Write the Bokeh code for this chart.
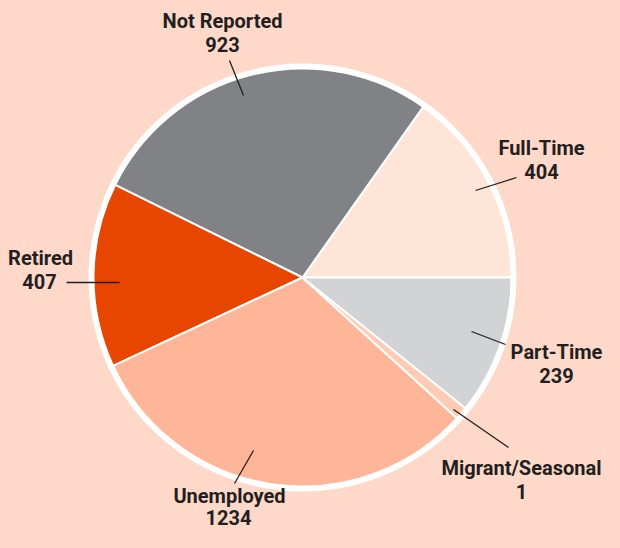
import math
from bokeh.plotting import figure
from bokeh.models import Range1d, ColumnDataSource
from bokeh.core.properties import value
from bokeh.embed import file_html
from bokeh.resources import INLINE

# ---- data ----
categories = ["Full-Time", "Not Reported", "Retired", "Unemployed", "Migrant/Seasonal", "Part-Time"]
counts = [404, 923, 407, 1234, 1, 239]
# share of the circle each slice occupies in the picture (percent)
slice_share = [15.2, 27.5, 14.25, 31.3, 1.0, 10.75]

colors = ["#FFE4D8", "#818285", "#E84600", "#FFB698", "#FFCBB4", "#D1D3D4"]
BG = "#FED9C9"

W, H = 604, 532
def X(px):  # picture px -> data x
    return px
def Y(py):  # picture py -> data y
    return H - py

cx, cy = X(302), Y(277)
R = 209

total = sum(slice_share)
starts, ends = [], []
acc = 0.0
for s in slice_share:
    starts.append(2 * math.pi * acc / total)
    acc += s
    ends.append(2 * math.pi * acc / total)

src = ColumnDataSource(dict(cat=categories, start=starts, end=ends, color=colors))

p = figure(width=W, height=H, output_backend="svg", toolbar_location=None,
           x_range=Range1d(0, W), y_range=Range1d(0, H), min_border=0)
p.axis.visible = False
p.grid.visible = False
p.outline_line_color = None
p.background_fill_color = BG
p.border_fill_color = BG

p.wedge(x=cx, y=cy, radius=R, start_angle="start", end_angle="end", direction="anticlock",
        fill_color="color", line_color="white", line_width=2, source=src)
p.circle(x=cx, y=cy, radius=R + 2.5, fill_color=None, line_color="white", line_width=5)

# ---- label layout (picture pixel coords) ----
name_pos = [(541, 147), (222, 20), (40, 257), (229, 495), (521, 467), (556, 351)]
val_pos = [(541, 171), (222, 44), (39, 281), (228, 517), (521, 491), (556, 375)]
leaders = [((475, 190), (516, 177)), ((229, 60), (243, 95)), ((66, 282), (119, 282)),
           ((234, 483), (253, 450)), ((453, 409), (508, 447)), ((471, 331), (505, 344))]

p.segment(x0=[X(a[0]) for a, b in leaders], y0=[Y(a[1]) for a, b in leaders],
          x1=[X(b[0]) for a, b in leaders], y1=[Y(b[1]) for a, b in leaders],
          line_color="#231F20", line_width=1.3)

txt = dict(text_font=value("Roboto"), text_font_style="bold", text_font_size="20px",
           text_align="center", text_baseline="middle", text_color="#231F20")
p.text(x=[X(a) for a, b in name_pos], y=[Y(b) for a, b in name_pos], text=categories, **txt)
p.text(x=[X(a) for a, b in val_pos], y=[Y(b) for a, b in val_pos], text=[str(c) for c in counts], **txt)

html = file_html(p, INLINE)
html = html.replace("<head>", "<head><style>html,body{background:%s;}</style>" % BG, 1)
open("out.html", "w").write(html)
